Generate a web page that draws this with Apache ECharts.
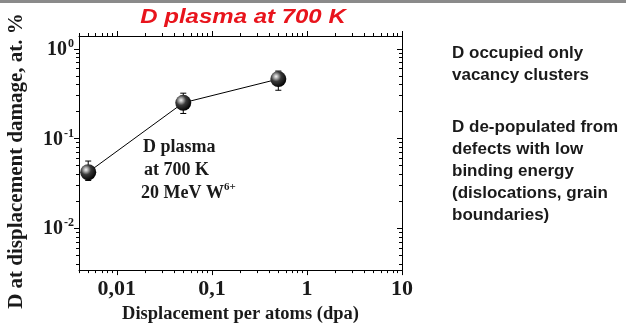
<!DOCTYPE html>
<html>
<head>
<meta charset="utf-8">
<script src="https://cdn.jsdelivr.net/npm/echarts@6/dist/echarts.min.js"></script>
<style>
  html, body { margin: 0; padding: 0; background: #fff; }
  #chart { width: 626px; height: 329px; }
</style>
</head>
<body>
<div id="chart"></div>
<script>
// Damage levels (dpa) and the retained D concentration (at. %)
const dpa = [0.005, 0.05, 0.5];
const dConc = [0.042, 0.25, 0.46];
const dConcLow = [0.034, 0.19, 0.345];
const dConcHigh = [0.056, 0.32, 0.565];

// Axis ranges and labelled ticks
const xRange = [0.004, 10];
const yRange = [0.0034, 1.39];
const xTickValues = [0.01, 0.1, 1, 10];
const xTickLabels = ['0,01', '0,1', '1', '10'];
const yTickValues = [0.01, 0.1, 1];
const yTickExponents = ['-2', '-1', '0'];

const serif = '"Liberation Serif", "Times New Roman", serif';
const sans = '"Liberation Sans", Arial, sans-serif';
const ink = '#1a1a1a';

// Minor ticks at 2..9 of every decade inside a range
function minorTicks(lo, hi) {
  const out = [];
  for (let e = Math.floor(Math.log10(lo)); e <= Math.ceil(Math.log10(hi)); e++) {
    for (let m = 2; m <= 9; m++) {
      const v = +(m * Math.pow(10, e)).toPrecision(6);
      if (v >= lo && v <= hi) out.push(v);
    }
  }
  return out;
}
function majorTicks(lo, hi) {
  const out = [];
  for (let e = Math.ceil(Math.log10(lo)); e <= Math.floor(Math.log10(hi)); e++) {
    out.push(+Math.pow(10, e).toPrecision(6));
  }
  return out;
}
function sameValue(a, b) { return Math.abs(Math.log10(a) - Math.log10(b)) < 1e-6; }

const xMajor = majorTicks(xRange[0], xRange[1]);
const xMinor = minorTicks(xRange[0], xRange[1]);
const yMajor = majorTicks(yRange[0], yRange[1]);
const yMinor = minorTicks(yRange[0], yRange[1]);

const lineStyle = { color: '#000', width: 1 };

function logAxis(range, position, ticks, len, inside, withLine) {
  return {
    type: 'log',
    logBase: 10,
    min: range[0],
    max: range[1],
    position: position,
    axisLine: { show: withLine, lineStyle: lineStyle },
    axisTick: { show: true, customValues: ticks, length: len, inside: inside, lineStyle: lineStyle },
    axisLabel: { show: false },
    splitLine: { show: false },
    minorTick: { show: false }
  };
}

const xMain = logAxis(xRange, 'bottom', xMajor, 5, false, true);
xMain.axisLabel = {
  show: true,
  customValues: xTickValues,
  margin: 8,
  color: ink,
  fontFamily: serif,
  fontWeight: 'bold',
  fontSize: 22,
  formatter: function (v) {
    for (let i = 0; i < xTickValues.length; i++) {
      if (sameValue(v, xTickValues[i])) return xTickLabels[i];
    }
    return '';
  }
};
xMain.name = 'Displacement per atoms (dpa)';
xMain.nameLocation = 'middle';
xMain.nameGap = 27;
xMain.nameTextStyle = { color: ink, fontFamily: serif, fontWeight: 'bold', fontSize: 18.5 };

const yMain = logAxis(yRange, 'left', yMajor, 5, false, true);
yMain.axisLabel = {
  show: true,
  customValues: yTickValues,
  margin: 5,
  formatter: function (v) {
    for (let i = 0; i < yTickValues.length; i++) {
      if (sameValue(v, yTickValues[i])) return '{b|10}{s|' + yTickExponents[i] + '}';
    }
    return '';
  },
  rich: {
    b: { color: ink, fontFamily: serif, fontWeight: 'bold', fontSize: 20, lineHeight: 22, verticalAlign: 'bottom' },
    s: { color: ink, fontFamily: serif, fontWeight: 'bold', fontSize: 12, lineHeight: 22, verticalAlign: 'top', padding: [0, 0, 0, 1] }
  }
};

const sphere = new echarts.graphic.RadialGradient(0.36, 0.34, 0.7, [
  { offset: 0, color: '#f4f4f4' },
  { offset: 0.18, color: '#b0b0b0' },
  { offset: 0.45, color: '#3a3a3a' },
  { offset: 1, color: '#000' }
]);

const option = {
  animation: false,
  backgroundColor: '#fff',
  grid: { left: 79, right: 224, top: 36, bottom: 53, containLabel: false },
  xAxis: [
    xMain,
    logAxis(xRange, 'bottom', xMinor, 3, false, false),
    logAxis(xRange, 'top', xMajor, 5, false, true),
    logAxis(xRange, 'top', xMinor, 3, false, false)
  ],
  yAxis: [
    yMain,
    logAxis(yRange, 'left', yMinor, 3, false, false),
    logAxis(yRange, 'right', yMajor, 5, true, true),
    logAxis(yRange, 'right', yMinor, 3, true, false)
  ],
  series: [
    {
      type: 'custom',
      xAxisIndex: 0,
      yAxisIndex: 0,
      z: 1,
      data: dpa.map((x, i) => [x, dConcLow[i], dConcHigh[i]]),
      renderItem: function (params, api) {
        const lo = api.coord([api.value(0), api.value(1)]);
        const hi = api.coord([api.value(0), api.value(2)]);
        const cap = 3;
        const st = { stroke: '#000', lineWidth: 1 };
        return {
          type: 'group',
          children: [
            { type: 'line', shape: { x1: lo[0], y1: lo[1], x2: hi[0], y2: hi[1] }, style: st },
            { type: 'line', shape: { x1: lo[0] - cap, y1: lo[1], x2: lo[0] + cap, y2: lo[1] }, style: st },
            { type: 'line', shape: { x1: hi[0] - cap, y1: hi[1], x2: hi[0] + cap, y2: hi[1] }, style: st }
          ]
        };
      }
    },
    {
      type: 'line',
      xAxisIndex: 0,
      yAxisIndex: 0,
      z: 2,
      data: dpa.map((x, i) => [x, dConc[i]]),
      symbol: 'circle',
      symbolSize: 16,
      showSymbol: true,
      lineStyle: { color: '#000', width: 1 },
      itemStyle: { color: sphere, borderWidth: 0 }
    }
  ],
  graphic: [
    { type: 'rect', left: 0, top: 0, shape: { width: 626, height: 3 }, style: { fill: '#8a8a8a' } },
    {
      type: 'text', x: 243, y: 17, scaleX: 1.2,
      style: {
        text: 'D plasma at 700 K', fill: '#e8141c',
        font: 'italic bold 20px ' + sans,
        align: 'center', verticalAlign: 'middle'
      }
    },
    {
      type: 'text', x: 17, y: 161, rotation: Math.PI / 2,
      style: {
        text: 'D at displacement damage, at. %', fill: ink,
        font: 'bold 21px ' + serif,
        align: 'center', verticalAlign: 'middle'
      }
    },
    {
      type: 'text', x: 143, y: 147,
      style: { text: 'D plasma', fill: ink, font: 'bold 18px ' + serif, verticalAlign: 'middle' }
    },
    {
      type: 'text', x: 144, y: 170,
      style: { text: 'at 700 K', fill: ink, font: 'bold 18px ' + serif, verticalAlign: 'middle' }
    },
    {
      type: 'text', x: 141, y: 182,
      style: {
        text: '20 MeV W{s|6+}',
        rich: {
          s: { fontSize: 11, fontWeight: 'bold', fontFamily: serif, fill: ink, verticalAlign: 'top', lineHeight: 22 }
        },
        fill: ink, font: 'bold 18px ' + serif, lineHeight: 22
      }
    },
    {
      type: 'text', x: 452, y: 42,
      style: {
        text: 'D occupied only\nvacancy clusters',
        fill: ink, font: 'bold 17px ' + sans, lineHeight: 22
      }
    },
    {
      type: 'text', x: 452, y: 116,
      style: {
        text: 'D de-populated from\ndefects with low\nbinding energy\n(dislocations, grain\nboundaries)',
        fill: ink, font: 'bold 17px ' + sans, lineHeight: 22
      }
    }
  ]
};

const chart = echarts.init(document.getElementById('chart'), null, { renderer: 'canvas' });
chart.setOption(option);
</script>
</body>
</html>
